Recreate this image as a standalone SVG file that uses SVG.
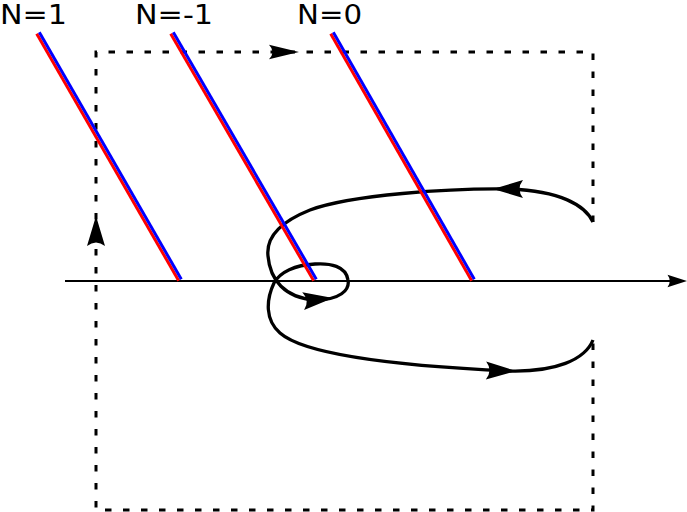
<svg xmlns="http://www.w3.org/2000/svg" xmlns:xlink="http://www.w3.org/1999/xlink" width="687" height="512" viewBox="0 0 687 512">
<style>
.lbl{font-family:"DejaVu Sans","Liberation Sans",sans-serif;font-size:27px;fill:#000;text-anchor:middle}
.frame{fill:none;stroke:#000;stroke-width:3;stroke-dasharray:6.5,11.5}
.axis{fill:none;stroke:#000;stroke-width:2}
.contour{fill:none;stroke:#000;stroke-width:3.3;stroke-linejoin:round}
.red{stroke:#ff0000;stroke-width:3;fill:none}
.blue{stroke:#0000ff;stroke-width:3;fill:none}
.head{fill:#000;stroke:none}
</style>
<defs>
<path id="ah" d="M0,0 L-30,-9 Q-23,0 -30,9 Z"/>
</defs>
<rect width="687" height="512" fill="#fff"/>
<g id="frame">
<path class="frame" d="M593,222 L593,52 L96,52 L96,510 L593,510 L593,340"/>
<use xlink:href="#ah" class="head" transform="translate(299,52) scale(1,0.8)"/>
<use xlink:href="#ah" class="head" transform="translate(96,216) rotate(-90)"/>
</g>
<g id="axis">
<line class="axis" x1="65" y1="281" x2="672" y2="281"/>
<use xlink:href="#ah" class="head" transform="translate(687,281) scale(0.65,0.7)"/>
</g>
<g id="connectors">
<path class="contour" d="M593,222 C585,205 560,191 510,189 C450,188 350,195 310,210 C280,222 266,238 268,256 C270,280 285,298 315,300 C340,300 350,290 348,280 C346,266 330,263 315,264 C295,265 280,272 274,283 C266,300 265,320 280,333 C305,355 400,366 510,371 C555,372 585,360 593,340"/>
<use xlink:href="#ah" class="head" transform="translate(493,189) rotate(180)"/>
<use xlink:href="#ah" class="head" transform="translate(516,371) rotate(1)"/>
<use xlink:href="#ah" class="head" transform="translate(333,298) rotate(-6)"/>
</g>
<g id="cut-n1">
<text class="lbl" x="33.5" y="23.5" textLength="67" lengthAdjust="spacingAndGlyphs">N=1</text>
<line class="red" x1="36.7" y1="33.75" x2="178.7" y2="280.75"/>
<line class="blue" x1="39.3" y1="32.25" x2="181.3" y2="279.25"/>
</g>
<g id="cut-nm1">
<text class="lbl" x="174" y="23.5" textLength="78" lengthAdjust="spacingAndGlyphs">N=-1</text>
<line class="red" x1="170.7" y1="33.75" x2="313.7" y2="280.75"/>
<line class="blue" x1="173.3" y1="32.25" x2="316.3" y2="279.25"/>
</g>
<g id="cut-n0">
<text class="lbl" x="329.5" y="23.5" textLength="65" lengthAdjust="spacingAndGlyphs">N=0</text>
<line class="red" x1="330.7" y1="33.75" x2="471.7" y2="280.75"/>
<line class="blue" x1="333.3" y1="32.25" x2="474.3" y2="279.25"/>
</g>
</svg>
